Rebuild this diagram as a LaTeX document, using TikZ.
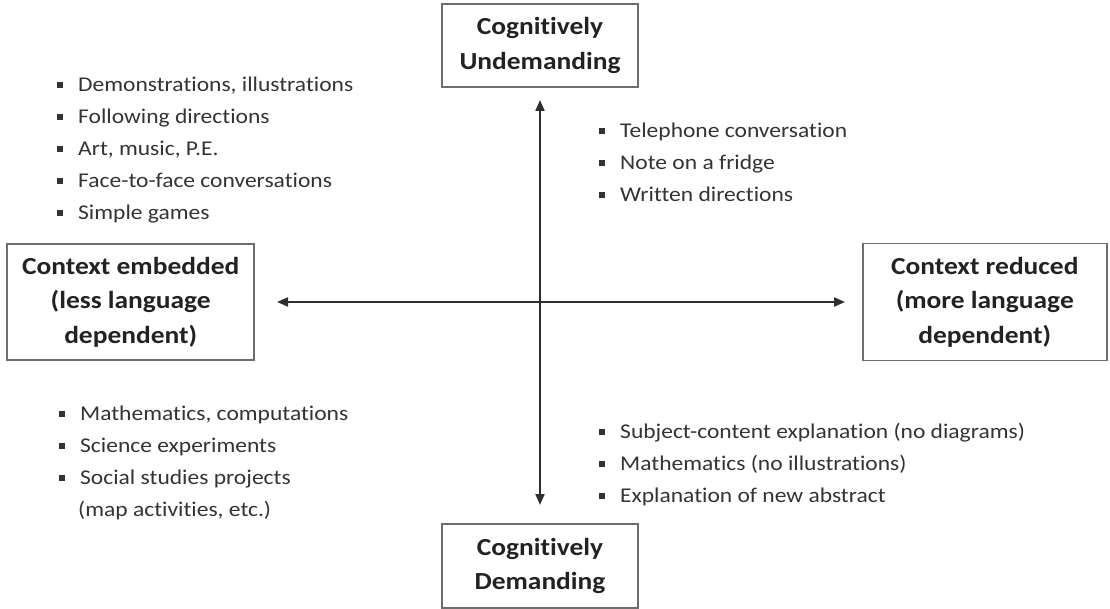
\documentclass[tikz,border=0pt]{standalone}
\usepackage{fontspec}
\setmainfont{Carlito}[FakeStretch=1.12,Ligatures=NoCommon]
\usetikzlibrary{positioning,arrows.meta}
\definecolor{boxline}{HTML}{6E6E6E}
\definecolor{boxtext}{HTML}{222222}
\definecolor{listtext}{HTML}{333333}
\definecolor{axis}{HTML}{2E2E2E}
\newcommand{\sqb}{\raisebox{3.5pt}{\rule{6pt}{6pt}}\hspace{15pt}}

\begin{document}
\begin{tikzpicture}[x=1pt,y=1pt,
    >={Triangle[length=11pt,width=9pt]},
    box/.style={rectangle,draw=boxline,line width=1.6pt,text=boxtext,align=center,
      font=\fontsize{24.5}{34.5}\selectfont\bfseries},
    items/.style={anchor=north west,inner sep=0pt,align=left,text=listtext,
      font=\fontsize{21}{32}\selectfont}]
    \useasboundingbox (0,0) rectangle (1110,608);
    \coordinate (O) at (540,306);
    \node[box,minimum width=196pt,minimum height=83pt] (CU) [above=214pt of O] {Cognitively\\Undemanding};
    \node[box,minimum width=196pt,minimum height=84pt] (CD) [below=221pt of O] {Cognitively\\Demanding};
    \node[box,minimum width=247pt,minimum height=116pt] (CE) [left=285pt of O] {Context embedded\\(less language\\dependent)};
    \node[box,minimum width=244pt,minimum height=117pt] (CR) [right=322pt of O] {Context reduced\\(more language\\dependent)};

    \draw[<->,axis,line width=2pt,shorten <=12pt,shorten >=18pt] (CU) -- (CD);
    \draw[<->,axis,line width=2pt,shorten <=22pt,shorten >=17pt] (CE) -- (CR);

    % the four quadrants
    \node[items] (L1) at (57,531) {\sqb Demonstrations, illustrations\\\sqb Following directions\\\sqb Art, music, P.E.\\\sqb Face-to-face conversations\\\sqb Simple games};
    \node[items] (L2) at (599,485) {\sqb Telephone conversation\\\sqb Note on a fridge\\\sqb Written directions};
    \node[items] (L3) at (59,202) {\sqb Mathematics, computations\\\sqb Science experiments\\\sqb Social studies projects\\\hspace{19pt}(map activities, etc.)};
    \node[items] (L4) at (599,185) {\sqb Subject-content explanation (no diagrams)\\\sqb Mathematics (no illustrations)\\\sqb Explanation of new abstract};
\end{tikzpicture}
\end{document}
